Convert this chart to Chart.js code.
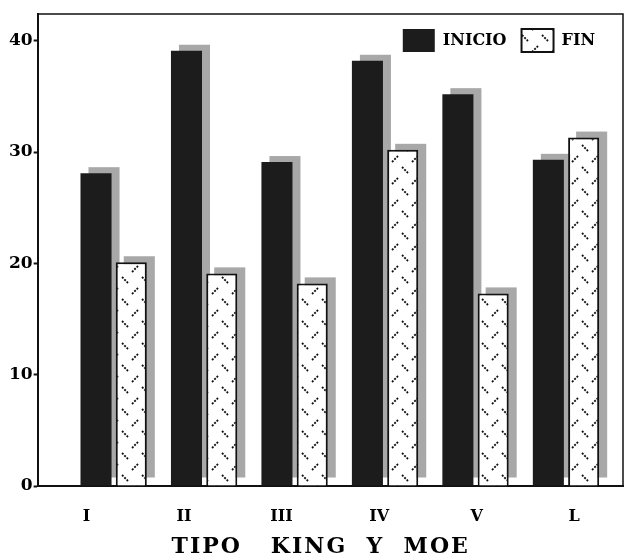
<!DOCTYPE html>
<html>
<head>
<meta charset="utf-8">
<script src="https://cdn.jsdelivr.net/npm/chart.js@4/dist/chart.umd.min.js"></script>
<style>
  body { margin: 0; background: #fff; }
  #wrap { width: 627px; height: 560px; }
</style>
</head>
<body>
<div id="wrap"><canvas id="chart" width="627" height="560"></canvas></div>
<script>
// Data
const categories = ["I", "II", "III", "IV", "V", "L"];
const inicio = [28.1, 39.1, 29.1, 38.2, 35.2, 29.3];
const fin = [20.1, 19.1, 18.2, 30.2, 17.3, 31.3];
const yTicks = [0, 10, 20, 30, 40];
const axisTitle = "TIPO   KING  Y  MOE  ";

// dotted-dash fill used for FIN bars
function makePattern() {
    const c = document.createElement("canvas");
    c.width = 20;
    c.height = 22;
    const g = c.getContext("2d");
    g.fillStyle = "#fff";
    g.fillRect(0, 0, 20, 22);
    g.strokeStyle = "#111";
    g.lineWidth = 1.8;
    g.setLineDash([2, 1.3]);
    g.beginPath();
    g.moveTo(2, 13); g.lineTo(8, 19);
    g.moveTo(12, 8); g.lineTo(18, 2);
    g.stroke();
    return g.createPattern(c, "repeat");
}

// gray drop shadow behind each bar
const barShadow = {
    id: "barShadow",
    beforeDatasetsDraw(chart) {
        const ctx = chart.ctx;
        ctx.save();
        ctx.fillStyle = "#a8a8a8";
        chart.data.datasets.forEach((ds, i) => {
            chart.getDatasetMeta(i).data.forEach(el => {
                const p = el.getProps(["x", "y", "base", "width"], true);
                ctx.fillRect(p.x - p.width / 2 + 8, p.y - 6, p.width, p.base - 8 - (p.y - 6));
            });
        });
        ctx.restore();
    }
};

// top and right frame lines
const frame = {
    id: "frame",
    afterDraw(chart) {
        const a = chart.chartArea;
        const ctx = chart.ctx;
        ctx.save();
        ctx.strokeStyle = "#111";
        ctx.lineWidth = 1.5;
        ctx.beginPath();
        ctx.moveTo(a.left, a.top);
        ctx.lineTo(a.right, a.top);
        ctx.lineTo(a.right, a.bottom);
        ctx.stroke();
        ctx.restore();
    }
};

// legend sits inside the plot: take no room at the top, pull it in from the right
const legendInside = {
    id: "legendInside",
    beforeInit(chart) {
        const fit = chart.legend.fit;
        chart.legend.fit = function () {
            fit.call(this);
            this.height = 0;
        };
    },
    afterLayout(chart) {
        const lg = chart.legend;
        lg.right -= 13;
        lg.height = 60;
        lg.bottom = lg.top + 60;
        // spaced-out lettering for the axis title
        const s = chart.scales.x2;
        if (!s._spaced) {
            const drawTitle = s.drawTitle;
            s.drawTitle = function () {
                this.ctx.save();
                this.ctx.letterSpacing = "2px";
                drawTitle.apply(this, arguments);
                this.ctx.restore();
            };
            s._spaced = true;
        }
    }
};

Chart.defaults.font.family = "'DejaVu Serif', serif";
Chart.defaults.font.weight = "bold";
Chart.defaults.color = "#000";

const ctx = document.getElementById("chart").getContext("2d");
new Chart(ctx, {
    type: "bar",
    data: {
        datasets: [
            {
                label: "INICIO",
                data: inicio.map((v, i) => ({ x: i, y: v })),
                backgroundColor: "#1c1c1c",
                borderWidth: 0
            },
            {
                label: "FIN",
                data: fin.map((v, i) => ({ x: i, y: v })),
                backgroundColor: makePattern(),
                borderColor: "#111",
                borderWidth: 2
            }
        ]
    },
    options: {
        responsive: false,
        animation: false,
        layout: { padding: { top: 14, right: 4, left: 8, bottom: 0 } },
        categoryPercentage: 0.78,
        barPercentage: 0.88,
        scales: {
            x: {
                type: "linear",
                display: false,
                min: -0.84,
                max: 5.63,
                offset: false,
                afterBuildTicks: s => { s.ticks = categories.map((c, i) => ({ value: i })); }
            },
            x2: {
                type: "category",
                labels: categories,
                position: "bottom",
                offset: true,
                grid: { display: false, drawTicks: false },
                border: { display: true, color: "#111", width: 2 },
                ticks: { padding: 21, font: { size: 16 }, maxRotation: 0 },
                title: {
                    display: true,
                    text: axisTitle,
                    font: { size: 22 },
                    padding: { top: 0, bottom: 0 }
                },
                afterFit: s => { s.height = 74; }
            },
            y: {
                min: 0,
                max: 42.4,
                afterBuildTicks: s => { s.ticks = yTicks.map(v => ({ value: v })); },
                grid: { drawOnChartArea: false, tickLength: 4, color: "#111", tickWidth: 2 },
                border: { color: "#111", width: 2 },
                ticks: { padding: 1, font: { size: 17 } }
            }
        },
        plugins: {
            legend: {
                position: "top",
                align: "end",
                labels: {
                    boxWidth: 32,
                    boxHeight: 23,
                    padding: 15,
                    font: { size: 16 }
                }
            },
            tooltip: { enabled: false }
        }
    },
    plugins: [barShadow, frame, legendInside]
});
</script>
</body>
</html>
